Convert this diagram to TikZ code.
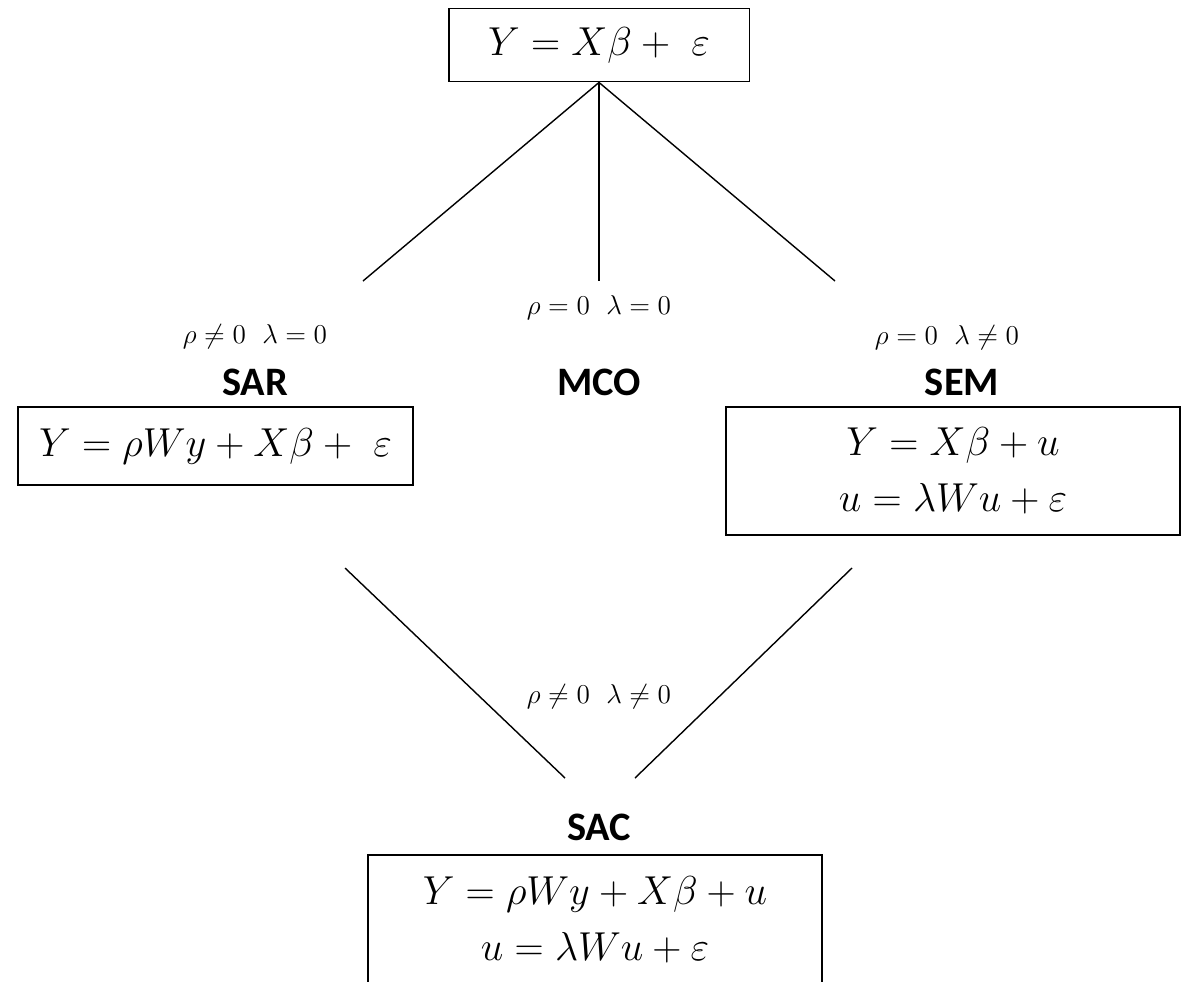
\RequirePackage{fix-cm}
\documentclass[tikz,border=0pt]{standalone}
\usepackage{amsmath,amssymb}
\usepackage{fontspec}
\newfontfamily\labelfont{Carlito}
\usepackage{tikz}
\usetikzlibrary{calc}

\begin{document}
\begin{tikzpicture}[x=0.02cm,y=-0.02cm]
	 \tikzstyle{eqbox}=[draw,line width=1.1pt,inner sep=0pt,align=center,font=\fontsize{23}{29}\selectfont]
	 \tikzstyle{cond}=[inner sep=0pt,font=\fontsize{15.5}{18}\selectfont]
	 \tikzstyle{model}=[inner sep=0pt,font=\fontsize{23}{28}\selectfont\labelfont\bfseries]
	 \tikzstyle{edge} = [draw,line width=0.8pt,-,black]
	 \useasboundingbox (0,0) rectangle (1182,981);
	 \node[eqbox,minimum width=6.02cm,minimum height=1.46cm] (ols) at (599,45) {$Y = X\beta +\ \varepsilon$};
	 \node[cond] (cmco) at (599,308) {$\rho = 0\ \ \lambda = 0$};
	 \node[cond] (csar) at (255,337) {$\rho \neq 0\ \ \lambda = 0$};
	 \node[cond] (csem) at (947,338) {$\rho = 0\ \ \lambda \neq 0$};
	 \node[model] (sar) at (255,382) {SAR};
	 \node[model] (mco) at (599,382) {MCO};
	 \node[model] (sem) at (962,382) {SEM};
	 \node[eqbox,minimum width=7.9cm,minimum height=1.56cm] (sarbox) at (215.5,446) {$Y = \rho W y + X\beta +\ \varepsilon$};
	 \node[eqbox,minimum width=9.08cm,minimum height=2.56cm] (sembox) at (953,471) {$Y = X\beta + u$\\[3pt]$u = \lambda W u + \varepsilon$};
	 \node[cond] (csac) at (599,697) {$\rho \neq 0\ \ \lambda \neq 0$};
	 \node[model] (sac) at (599,827) {SAC};
	 \node[eqbox,minimum width=9.08cm,minimum height=2.6cm] (sacbox) at (595,920) {$Y = \rho W y + X\beta + u$\\[3pt]$u = \lambda W u + \varepsilon$};
	 \coordinate (tl) at (363,281);
	 \coordinate (tm) at (599,281);
	 \coordinate (tr) at (835,281);
	 \coordinate (bl1) at (345,568);
	 \coordinate (bl2) at (565,778);
	 \coordinate (br1) at (852,568);
	 \coordinate (br2) at (635,778);
	 \draw[edge] (tl) -- (ols.south) -- (tr);
	 \draw[edge] (ols.south) -- (tm);
	 \draw[edge] (bl1) -- (bl2);
	 \draw[edge] (br1) -- (br2);
\end{tikzpicture}
\end{document}
